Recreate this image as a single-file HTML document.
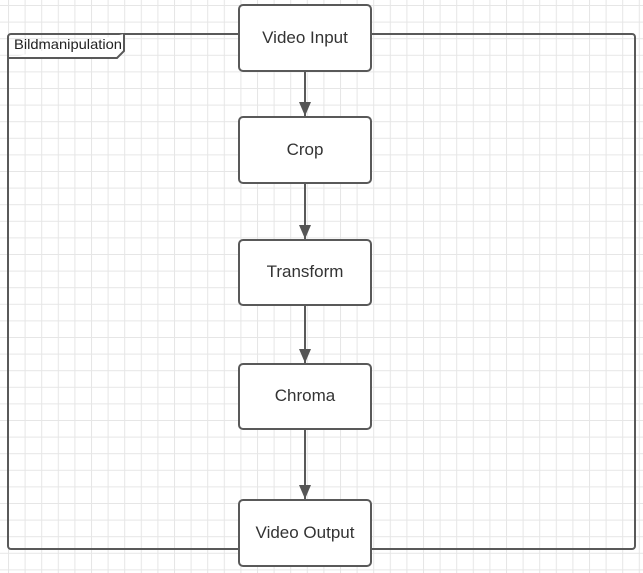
<!DOCTYPE html>
<html><head><style>
html,body{margin:0;padding:0;background:#fff;}
svg{display:block;}
</style></head><body>
<svg width="643" height="573" xmlns="http://www.w3.org/2000/svg">
<defs>
<pattern id="g" x="8" y="5" width="16.6" height="16.6" patternUnits="userSpaceOnUse">
<path d="M0 0.5H16.6M0.5 0V16.6" stroke="#e6e6e6" stroke-width="1" fill="none"/>
</pattern>
<marker id="a" markerWidth="12" markerHeight="14" refX="14" refY="6" orient="auto" markerUnits="userSpaceOnUse">
<path d="M0 0L14 6L0 12Z" fill="#555"/>
</marker>
</defs>
<rect width="643" height="573" fill="url(#g)"/>
<rect x="8" y="34" width="627" height="515" rx="3" fill="none" stroke="#595959" stroke-width="2"/>
<path d="M8 58H117L124 51V34" fill="#fff" stroke="#595959" stroke-width="2"/>
<text x="14" y="49" font-family="Liberation Sans, sans-serif" font-size="14" fill="#222" textLength="108" lengthAdjust="spacingAndGlyphs">Bildmanipulation</text>
<g stroke="#595959" stroke-width="2" fill="none">
<line x1="305" y1="71" x2="305" y2="116" marker-end="url(#a)"/>
<line x1="305" y1="183" x2="305" y2="239" marker-end="url(#a)"/>
<line x1="305" y1="305" x2="305" y2="363" marker-end="url(#a)"/>
<line x1="305" y1="429" x2="305" y2="499" marker-end="url(#a)"/>
</g>
<g fill="#fff" stroke="#595959" stroke-width="2">
<rect x="239" y="5" width="132" height="66" rx="4"/>
<rect x="239" y="117" width="132" height="66" rx="4"/>
<rect x="239" y="240" width="132" height="65" rx="4"/>
<rect x="239" y="364" width="132" height="65" rx="4"/>
<rect x="239" y="500" width="132" height="66" rx="4"/>
</g>
<g font-family="Liberation Sans, sans-serif" font-size="17" fill="#333" text-anchor="middle">
<text x="305" y="43">Video Input</text>
<text x="305" y="155">Crop</text>
<text x="305" y="277">Transform</text>
<text x="305" y="401">Chroma</text>
<text x="305" y="538">Video Output</text>
</g>
</svg>
</body></html>
